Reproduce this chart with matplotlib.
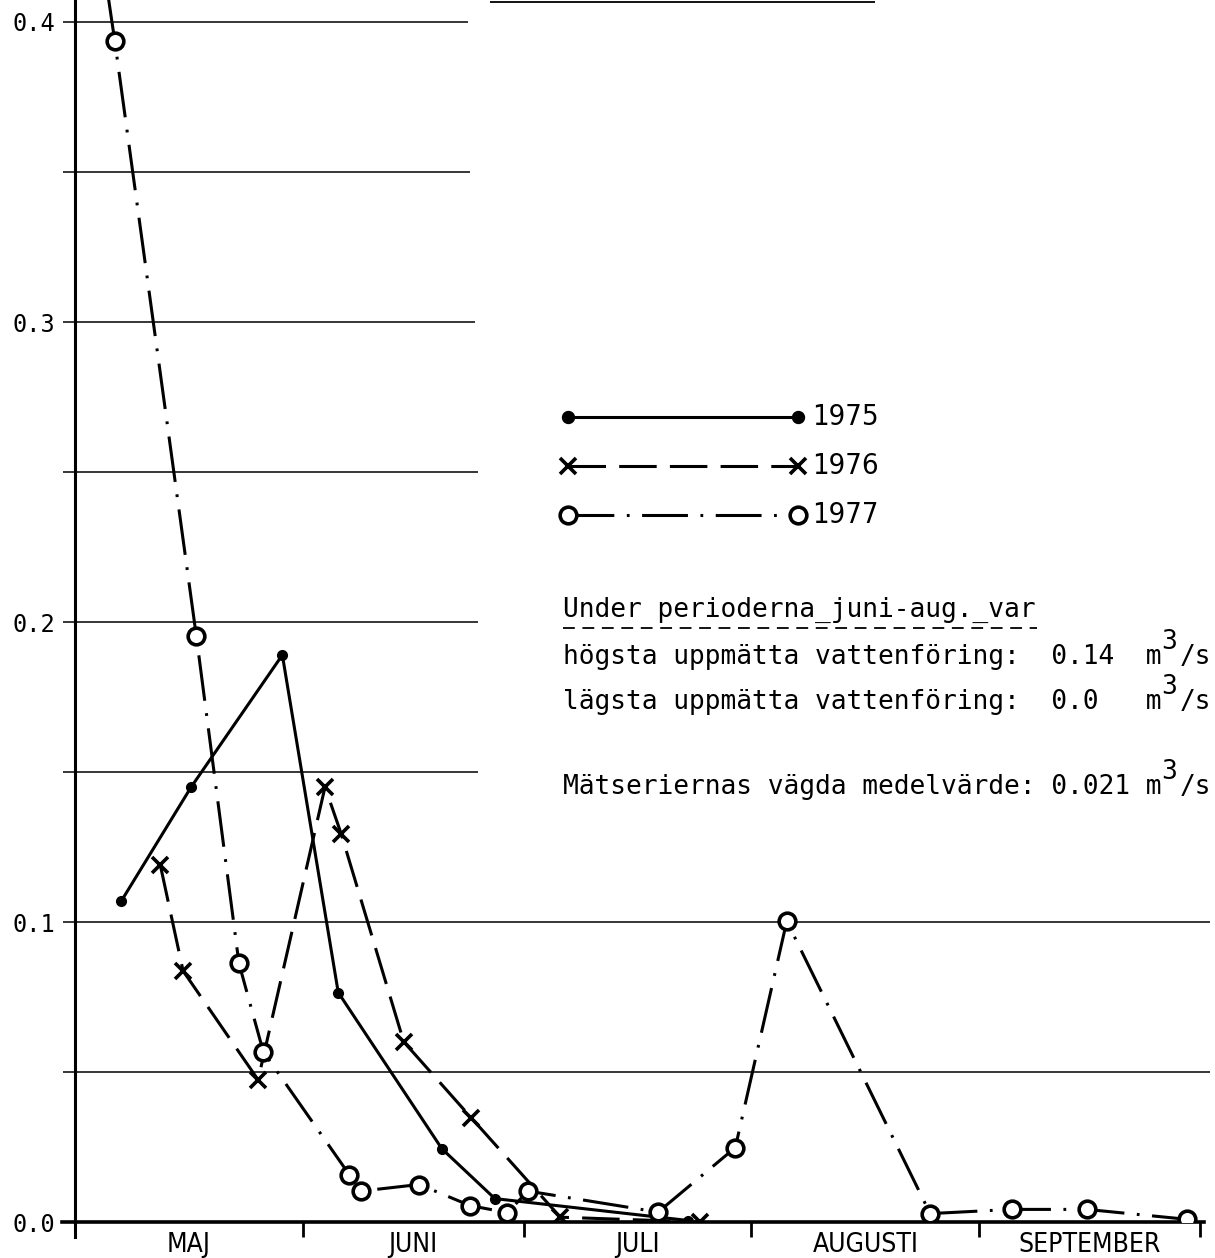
import matplotlib
matplotlib.use("Agg")
import matplotlib.pyplot as plt
from matplotlib.lines import Line2D

plt.rcParams['lines.scale_dashes'] = False

W, H, DPI = 1215, 1258, 100

# ---- data: day since 1 May, flow m3/s ----
days_1975 = [6.3, 15.8, 28.2, 35.8, 49.9, 57.1, 83.4]
flow_1975 = [0.107, 0.145, 0.189, 0.0765, 0.0244, 0.0078, 0.0005]

days_1976 = [11.6, 14.7, 24.9, 34.0, 36.2, 44.7, 53.9, 66.0, 85.0]
flow_1976 = [0.119, 0.0837, 0.0474, 0.145, 0.1294, 0.0601, 0.0347, 0.0016, 0.0]

days_1977 = [3.4, 5.4, 16.5, 22.3, 25.6, 37.3, 38.9, 46.8, 53.7, 58.8, 61.6,
             79.3, 89.8, 96.8, 116.3, 127.4, 137.6, 151.2]
flow_1977 = [0.427, 0.3938, 0.1953, 0.0862, 0.0568, 0.0158, 0.0103, 0.0125, 0.0055,
             0.0031, 0.0103, 0.0033, 0.0248, 0.1003, 0.0028, 0.0042, 0.0042, 0.0009]

month_starts = [31, 61, 92, 123, 153]
month_mids = [15.5, 46, 76.5, 107.5, 138]
month_names = ['MAJ', 'JUNI', 'JULI', 'AUGUSTI', 'SEPTEMBER']

grid_levels = [0.05, 0.1, 0.15, 0.2, 0.25, 0.3, 0.35, 0.4]
grid_ends = [154.4, 154.4, 54.8, 54.8, 54.8, 54.4, 53.7, 53.4]

info_head = "Under perioderna_juni-aug._var"
info_lines = ["högsta uppmätta vattenföring:  0.14  m",
              "lägsta uppmätta vattenföring:  0.0   m",
              "Mätseriernas vägda medelvärde: 0.021 m"]
info_y = [610, 657, 702, 787]

cond = dict(fontfamily='DejaVu Sans', fontstretch='condensed')
mono = 'DejaVu Sans Mono'

def fx(px):
    return px / W

def fy(py):
    return 1 - py / H

fig = plt.figure(figsize=(W / DPI, H / DPI), dpi=DPI)
ax = fig.add_axes([fx(75), fy(1222), (W - 75) / W, 1222 / H])
ax.set_xlim(0, (W - 75) / 7.353)
ax.set_ylim(0, 1222 / 3000)

for s in ['top', 'right', 'bottom']:
    ax.spines[s].set_visible(False)
ax.spines['left'].set_linewidth(2.2)

# gridlines, cut off where the legend/text sits
for lev, xe in zip(grid_levels, grid_ends):
    ax.hlines(lev, 0, xe, color='black', lw=1.1, zorder=1)
ax.hlines(0.4066, (490 - 75) / 7.353, (875 - 75) / 7.353, color='black', lw=1.3, clip_on=False)

# zero line and downward axis extension
ax.plot([-1.8, 153.6], [0, 0], color='black', lw=2.6, clip_on=False, zorder=3)
ax.plot([0, 0], [0, -0.005], color='black', lw=2.2, clip_on=False)

# y ticks
yt = [v / 100 for v in range(0, 41, 5)]
ax.set_yticks(yt)
ax.set_yticklabels(['%.1f' % v if v * 100 % 10 == 0 else '' for v in yt],
                   fontfamily=mono, fontsize=17)
ax.tick_params(axis='y', direction='out', length=9, width=1.1, pad=5)

# x ticks: month boundaries + labels
ax.set_xticks(month_starts)
ax.set_xticklabels([])
ax.tick_params(axis='x', which='major', direction='out', length=11, width=2)
ax.set_xticks(month_mids, minor=True)
ax.set_xticklabels(month_names, minor=True, fontsize=19, **cond)
ax.tick_params(axis='x', which='minor', length=0, pad=7)

# series
ax.plot(days_1975, flow_1975, color='black', lw=2.2, marker='o', ms=7, zorder=4)
ax.plot(days_1976, flow_1976, color='black', lw=2.2, linestyle=(0, (27, 9.5)),
        marker='x', ms=11, mew=2.6, zorder=4)
ax.plot(days_1977, flow_1977, color='black', lw=2.2, linestyle=(0, (33, 9, 2, 9)),
        marker='o', ms=12, mew=2.6, mfc='white', zorder=5)

# legend drawn by hand
leg = [('1975', '-', 'o', 'black', 7, 417),
       ('1976', (0, (27, 9.5)), 'x', 'black', 11, 466),
       ('1977', (0, (33, 9, 2, 9)), 'o', 'white', 12, 515)]
for lab, ls, mk, mfc, ms, py in leg:
    fig.add_artist(Line2D([fx(568), fx(798)], [fy(py), fy(py)], transform=fig.transFigure,
                          color='black', lw=2.2, linestyle=ls, marker=mk, ms=ms,
                          mew=2.6, mfc=mfc))
    fig.text(fx(812), fy(py), lab, fontsize=21, va='center', ha='left', **cond)

# info block (typewriter text)
fs = 18.9
cw = 0.602 * fs / 72 * DPI
x0 = 563
fig.text(fx(x0), fy(info_y[0]), info_head, fontfamily=mono, fontsize=fs, va='center', ha='left')
fig.add_artist(Line2D([fx(x0), fx(x0 + 30 * cw)], [fy(info_y[0] + 18)] * 2,
                      transform=fig.transFigure, color='black', lw=1.3,
                      linestyle=(0, (8.5, 5.5))))
for txt, py in zip(info_lines, info_y[1:]):
    fig.text(fx(x0), fy(py), txt, fontfamily=mono, fontsize=fs, va='center', ha='left')
    fig.text(fx(x0 + 38 * cw - 2), fy(py - 15), '3', fontfamily=mono, fontsize=fs,
             va='center', ha='left')
    fig.text(fx(x0 + 39 * cw), fy(py), '/s', fontfamily=mono, fontsize=fs,
             va='center', ha='left')

fig.savefig('out.png', dpi=DPI)
